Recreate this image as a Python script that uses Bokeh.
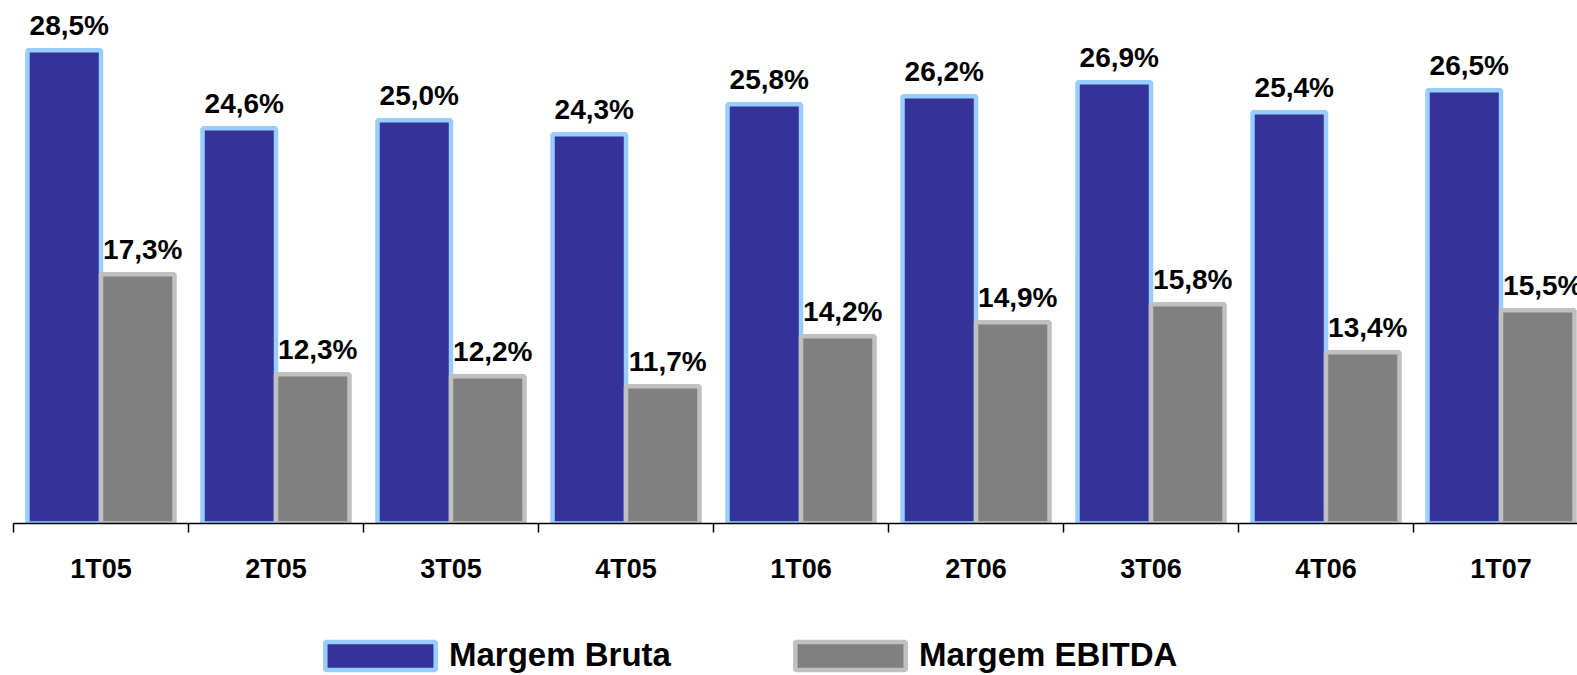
from bokeh.plotting import figure
from bokeh.layouts import column
from bokeh.models import (Range1d, FixedTicker, CustomJSTickFormatter, Legend,
                          LegendItem, ColumnDataSource)
from bokeh.core.properties import value
from bokeh.embed import file_html
from bokeh.resources import INLINE

categories = ["1T05", "2T05", "3T05", "4T05", "1T06", "2T06", "3T06", "4T06", "1T07"]
margem_bruta = [28.5, 24.6, 25.0, 24.3, 25.8, 26.2, 26.9, 25.4, 26.5]
margem_ebitda = [17.3, 12.3, 12.2, 11.7, 14.2, 14.9, 15.8, 13.4, 15.5]
series_names = ["Margem Bruta", "Margem EBITDA"]

FONT = value("Liberation Sans")
BLUE_FILL, BLUE_LINE = "#333399", "#99CCFF"
GRAY_FILL, GRAY_LINE = "#808080", "#C0C0C0"
n = len(categories)
centers = [i + 0.5 for i in range(n)]
off = 0.21
bw = 0.42

def fmt(v):
    return ("%.1f" % v).replace(".", ",") + "%"

src_b = ColumnDataSource(dict(x=[c - off for c in centers], top=margem_bruta,
                              lab=[fmt(v) for v in margem_bruta]))
src_e = ColumnDataSource(dict(x=[c + off for c in centers], top=margem_ebitda,
                              lab=[fmt(v) for v in margem_ebitda]))

y0 = 4.84
p = figure(width=1577, height=615, output_backend="svg", toolbar_location=None,
           x_range=Range1d(0, 8.937), y_range=Range1d(y0, 30.99),
           y_axis_location=None, min_border_left=13, min_border_right=0,
           min_border_top=0, min_border_bottom=92)
p.xgrid.visible = False
p.ygrid.visible = False
p.outline_line_color = None
p.background_fill_color = "white"

p.vbar(x="x", top="top", bottom=y0, width=bw, source=src_b,
       fill_color=BLUE_FILL, line_color=BLUE_LINE, line_width=4.5)
p.vbar(x="x", top="top", bottom=y0, width=bw, source=src_e,
       fill_color=GRAY_FILL, line_color=GRAY_LINE, line_width=4.5)

for src in (src_b, src_e):
    p.text(x="x", y="top", text="lab", source=src, text_font=FONT,
           text_font_size="28px", text_font_style="bold", text_color="black",
           text_align="center", text_baseline="alphabetic", x_offset=5, y_offset=-25)

ax = p.xaxis[0]
ax.ticker = FixedTicker(ticks=centers, minor_ticks=list(range(n + 1)))
ax.formatter = CustomJSTickFormatter(args=dict(labels=categories),
                                     code="return labels[Math.floor(tick)];")
ax.axis_line_color = "black"
ax.axis_line_width = 1.5
ax.major_tick_out = 0
ax.major_tick_in = 0
ax.minor_tick_out = 9
ax.minor_tick_in = 0
ax.minor_tick_line_color = "black"
ax.minor_tick_line_width = 1.5
ax.major_label_text_font = "Liberation Sans"
ax.major_label_text_font_size = "27px"
ax.major_label_text_font_style = "bold"
ax.major_label_text_color = "black"
ax.major_label_standoff = 21

# legend strip: its bar renderers are hidden; only their legend swatches show
p2 = figure(width=1577, height=60, output_backend="svg", toolbar_location=None,
            x_range=Range1d(20, 21), y_range=Range1d(-2, -1),
            x_axis_location=None, y_axis_location=None,
            min_border_left=0, min_border_right=0, min_border_top=0, min_border_bottom=0)
p2.xgrid.visible = False
p2.ygrid.visible = False
p2.outline_line_color = None
lb = p2.vbar(x="x", top="top", bottom=y0, width=bw, source=src_b,
             fill_color=BLUE_FILL, line_color=BLUE_LINE, line_width=4.5)
le = p2.vbar(x="x", top="top", bottom=y0, width=bw, source=src_e,
             fill_color=GRAY_FILL, line_color=GRAY_LINE, line_width=4.5)
lb.visible = False
le.visible = False

legend = Legend(items=[LegendItem(label=series_names[0], renderers=[lb]),
                       LegendItem(label=series_names[1], renderers=[le])],
                orientation="horizontal", location=(298, -6),
                glyph_width=138, glyph_height=35, label_height=52,
                label_standoff=0, spacing=110, click_policy="none",
                padding=0, margin=0, border_line_color=None,
                background_fill_alpha=0,
                label_text_font="Liberation Sans", label_text_font_size="33px",
                label_text_font_style="bold", label_text_color="black")
p2.add_layout(legend, "center")

layout = column(p, p2, spacing=0)
open("out.html", "w").write(file_html(layout, INLINE))
